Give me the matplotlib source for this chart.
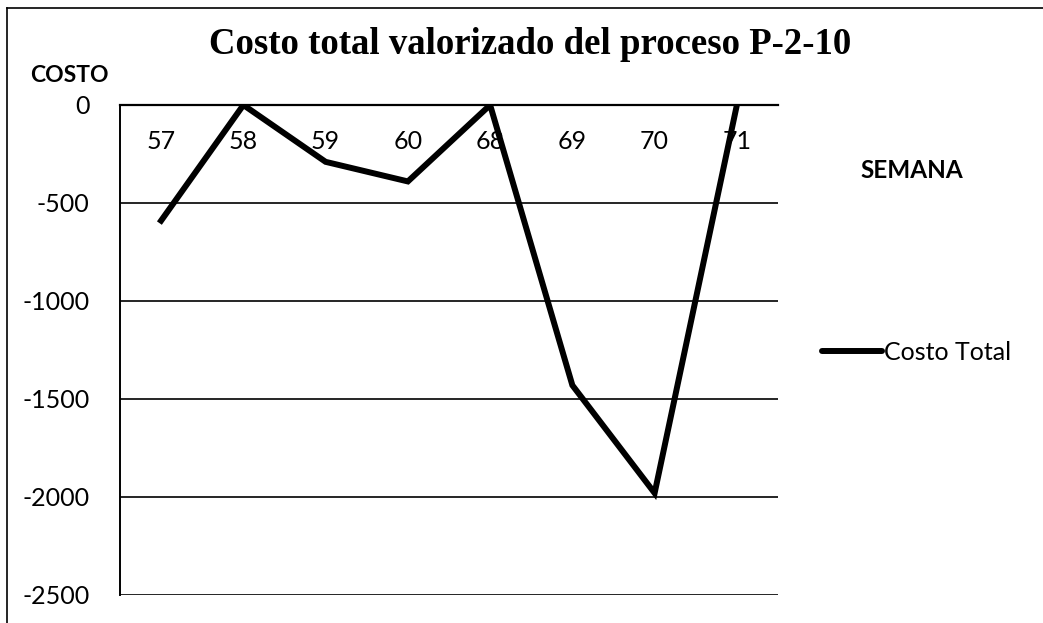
import matplotlib.pyplot as plt
from matplotlib.lines import Line2D

semanas = ['57', '58', '59', '60', '68', '69', '70', '71']
costo_total = [-590, 0, -290, -390, 0, -1430, -1980, 0]
y_ticks = [0, -500, -1000, -1500, -2000, -2500]

plt.rcParams['font.family'] = ['Lato', 'DejaVu Sans']

fig = plt.figure(figsize=(10.43, 6.23), dpi=100)
ax = fig.add_axes([120 / 1043, 1 - 595 / 623, 658 / 1043, 490 / 623])

x = list(range(len(semanas)))
ax.plot(x, costo_total, color='black', lw=4.3, solid_joinstyle='miter', label='Costo Total', zorder=3)

ax.set_xlim(-0.5, len(semanas) - 0.5)
ax.set_ylim(-2500, 0)
ax.set_yticks(y_ticks)
ax.set_yticklabels([str(v) for v in y_ticks], fontsize=18)
ax.grid(axis='y', color='black', lw=1.2)
ax.set_axisbelow(True)

# eje x cruza en 0, etiquetas dentro del area
ax.spines['bottom'].set_position(('data', 0))
ax.spines['bottom'].set_linewidth(1.6)
ax.spines['top'].set_visible(False)
ax.spines['right'].set_visible(False)
ax.spines['left'].set_linewidth(1.4)
ax.set_xticks(x)
ax.set_xticklabels(semanas, fontsize=18)
ax.tick_params(axis='x', length=0, pad=18)
ax.tick_params(axis='y', length=0, pad=22)

fig.text(530 / 1043, 1 - 45 / 623, 'Costo total valorizado del proceso P-2-10',
         family='Liberation Serif', fontweight='bold', fontsize=26.5, ha='center', va='center')
fig.text(30 / 1043, 1 - 75 / 623, 'COSTO', fontweight='bold', fontsize=16.5,
         ha='left', va='center')
fig.text(860 / 1043, 1 - 170 / 623, 'SEMANA', fontweight='bold', fontsize=17.5,
         ha='left', va='center')

leg = ax.legend(handles=[Line2D([], [], color='black', lw=4.3, solid_capstyle='round')],
                labels=['Costo Total'], loc='center left', bbox_to_anchor=(822 / 1043, 1 - 352 / 623),
                bbox_transform=fig.transFigure, frameon=False, fontsize=18,
                handlelength=2.4, handletextpad=0.1, borderpad=0, borderaxespad=0)

# marco de la figura
fig.add_artist(Line2D([7 / 1043, 7 / 1043], [0, 1 - 8 / 623], color='black', lw=1.2))
fig.add_artist(Line2D([7 / 1043, 1], [1 - 8 / 623, 1 - 8 / 623], color='black', lw=1.2))

fig.savefig('out.png', dpi=100)
